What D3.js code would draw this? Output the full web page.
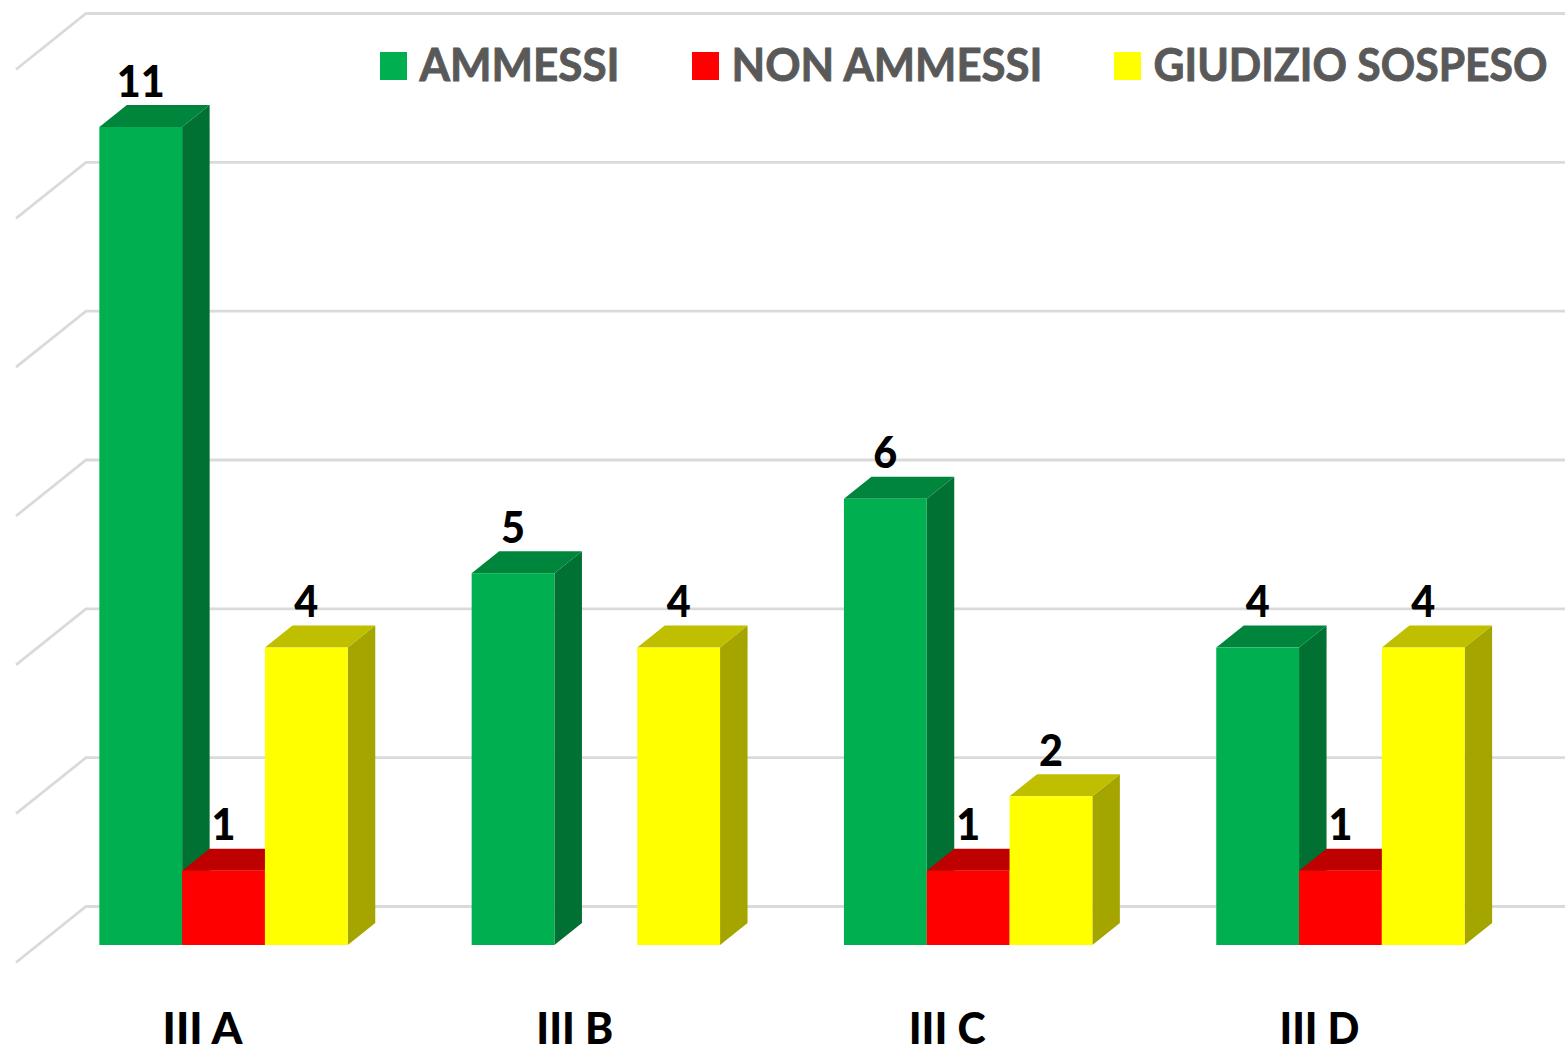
<!DOCTYPE html>
<html><head><meta charset="utf-8">
<script src="https://cdn.jsdelivr.net/npm/d3@7"></script>
<style>html,body{margin:0;padding:0;background:#fff}svg{display:block}text{font-family:Lato,"Open Sans",sans-serif}</style>
</head><body><svg id="c" width="1565" height="1047"></svg>
<script>
const categories = ["III A","III B","III C","III D"];
const seriesNames = ["AMMESSI","NON AMMESSI","GIUDIZIO SOSPESO"];
const ammessi = [11,5,6,4];
const nonAmmessi = [1,null,1,1];
const giudizioSospeso = [4,4,2,4];
const gridTicks = [0,2,4,6,8,10,12];

const frontColors = ["#00B050","#FF0000","#FFFF00"];
const topColors = ["#00863C","#BF0000","#BFBF00"];
const sideColors = ["#007033","#A60000","#A5A500"];
const series = [ammessi, nonAmmessi, giudizioSospeso];

const svg = d3.select("#c");
const depthX = 27.5, depthY = 22;
const x0 = d3.scaleBand().domain(categories).range([37.4,1526.6]).padding(0);
const barW = 82.8;
const x1 = d3.scaleBand().domain(d3.range(3)).range([-124.2,124.2]);
const y = d3.scaleLinear().domain([0,11]).range([945,127]);
const yGrid = d3.scaleLinear().domain([0,12]).range([906.5,13.5]);

// Walls: back and side gridlines
const gridG = svg.append("g").attr("fill","none").attr("stroke","#DADADA").attr("stroke-width",2.8);
gridG.selectAll("path").data(gridTicks).join("path")
  .attr("d", t => `M16,${yGrid(t)+56}L86,${yGrid(t)}L1565,${yGrid(t)}`);

// Bars
const groups = svg.append("g").selectAll("g").data(categories).join("g")
  .attr("transform", c => `translate(${x0(c)+x0.bandwidth()/2},0)`);
groups.each(function(c, ci){
  const g = d3.select(this);
  series.forEach((vals, si) => {
    const v = vals[ci];
    if (v == null) return;
    const l = x1(si), r = l + barW, t = y(v), b = y(0);
    g.append("path").attr("fill",sideColors[si])
      .attr("d",`M${r},${t}L${r+depthX},${t-depthY}L${r+depthX},${b-depthY}L${r},${b}Z`);
    g.append("path").attr("fill",topColors[si])
      .attr("d",`M${l},${t}L${l+depthX},${t-depthY}L${r+depthX},${t-depthY}L${r},${t}Z`);
    g.append("rect").attr("fill",frontColors[si])
      .attr("x",l).attr("y",t).attr("width",barW).attr("height",b-t);
  });
});
// Value labels on top
groups.each(function(c, ci){
  const g = d3.select(this);
  series.forEach((vals, si) => {
    const v = vals[ci];
    if (v == null) return;
    g.append("text").text(v)
      .attr("x",x1(si)+barW/2).attr("y",y(v)-30.5)
      .attr("text-anchor","middle").attr("font-size",43).attr("font-weight",900)
      .attr("textLength",String(v).length*24).attr("lengthAdjust","spacingAndGlyphs")
      .attr("fill","#000");
  });
});

// Category labels
const catWidths = [80,77,77,80];
svg.append("g").selectAll("text").data(categories).join("text")
  .text(d => d)
  .attr("x", d => x0(d)+x0.bandwidth()/2-21).attr("y",1044)
  .attr("text-anchor","middle").attr("font-size",44).attr("font-weight",900).attr("fill","#000")
  .attr("textLength",(d,i)=>catWidths[i]).attr("lengthAdjust","spacingAndGlyphs");

// Legend
const legendSwatchX = [380,692,1114];
const legendTextWidths = [200,311,394];
const lg = svg.append("g").selectAll("g").data(seriesNames).join("g")
  .attr("transform",(d,i)=>`translate(${legendSwatchX[i]},0)`);
lg.append("rect").attr("y",52).attr("width",27).attr("height",28).attr("fill",(d,i)=>frontColors[i]);
lg.append("text").text(d=>d).attr("x",39.5).attr("y",80.5)
  .attr("font-size",45).attr("font-weight",700).attr("fill","#595959")
  .attr("stroke","#595959").attr("stroke-width",0.9)
  .attr("textLength",(d,i)=>legendTextWidths[i]).attr("lengthAdjust","spacingAndGlyphs");
</script></body></html>
